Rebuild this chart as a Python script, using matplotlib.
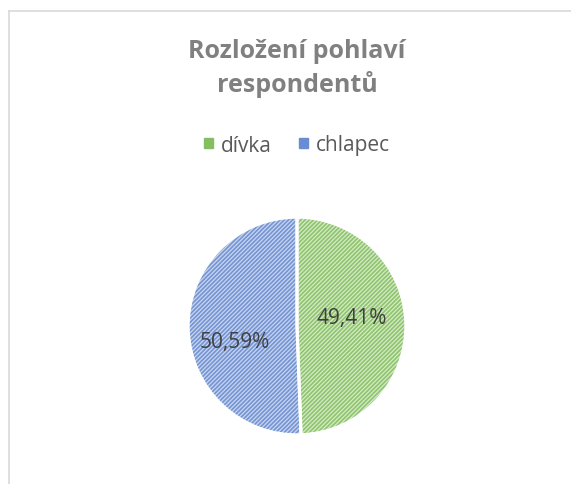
import matplotlib
matplotlib.use("Agg")
import matplotlib.pyplot as plt
from matplotlib.lines import Line2D
from matplotlib.patches import Patch

# data
labels = ["dívka", "chlapec"]
shares = [49.41, 50.59]
light_cols = ["#d5ebc7", "#c8d6f0"]
line_cols = ["#8fc46e", "#7594d3"]
legend_cols = ["#84bd62", "#6a8cd0"]

W, H = 571, 485
plt.rcParams['font.family'] = ['Open Sans', 'DejaVu Sans']
plt.rcParams['hatch.linewidth'] = 1.2

fig = plt.figure(figsize=(W / 100, H / 100), dpi=100)

# chart area border (only top/left visible in the crop)
fig.add_artist(Line2D([8.5 / W, 8.5 / W], [0, 1 - 11.5 / H], color="#d9d9d9", lw=1.2))
fig.add_artist(Line2D([8.5 / W, 1], [1 - 11.5 / H, 1 - 11.5 / H], color="#d9d9d9", lw=1.2))

# pie axes, center ~ (297, 327) px, radius ~111 px
cx, cy, r = 297, 327, 111
ax = fig.add_axes([(cx - r) / W, 1 - (cy + r) / H, 2 * r / W, 2 * r / H])
wedges, _ = ax.pie(shares, colors=light_cols, startangle=90, counterclock=False,
                   wedgeprops=dict(linewidth=0))
for w, lc in zip(wedges, line_cols):
    w.set_hatch("/" * 8)
    w.set_edgecolor(lc)
    w.set_linewidth(0)
# white separators on top
ax.pie(shares, colors=["none", "none"], startangle=90, counterclock=False,
       wedgeprops=dict(edgecolor="white", linewidth=2.2, fill=False))
ax.set_xlim(-1.02, 1.02)
ax.set_ylim(-1.02, 1.02)
ax.set_aspect("equal")
ax.axis("off")

pct_pos = [(0.50, 0.08), (-0.57, -0.14)]
for s, (px, py) in zip(shares, pct_pos):
    ax.text(px, py, f"{s:.2f}%".replace(".", ","), ha="center", va="center",
            fontsize=15, color="#404040")

# title
fig.text(cx / W, 1 - 52 / H, "Rozložení pohlaví", ha="center", va="center",
         fontsize=18, fontweight="bold", color="#808080")
fig.text(cx / W, 1 - 84 / H, "respondentů", ha="center", va="center",
         fontsize=18, fontweight="bold", color="#808080")

# legend
handles = [Patch(facecolor=lc, edgecolor=lc) for lc in legend_cols]
fig.legend(handles, labels, loc="center", bbox_to_anchor=(cx / W, 1 - 146 / H),
           ncol=2, frameon=False, fontsize=15, labelcolor="#595959",
           handlelength=0.42, handleheight=0.42, handletextpad=0.4, columnspacing=1.3)

fig.savefig("out.png", dpi=100, facecolor="white")
